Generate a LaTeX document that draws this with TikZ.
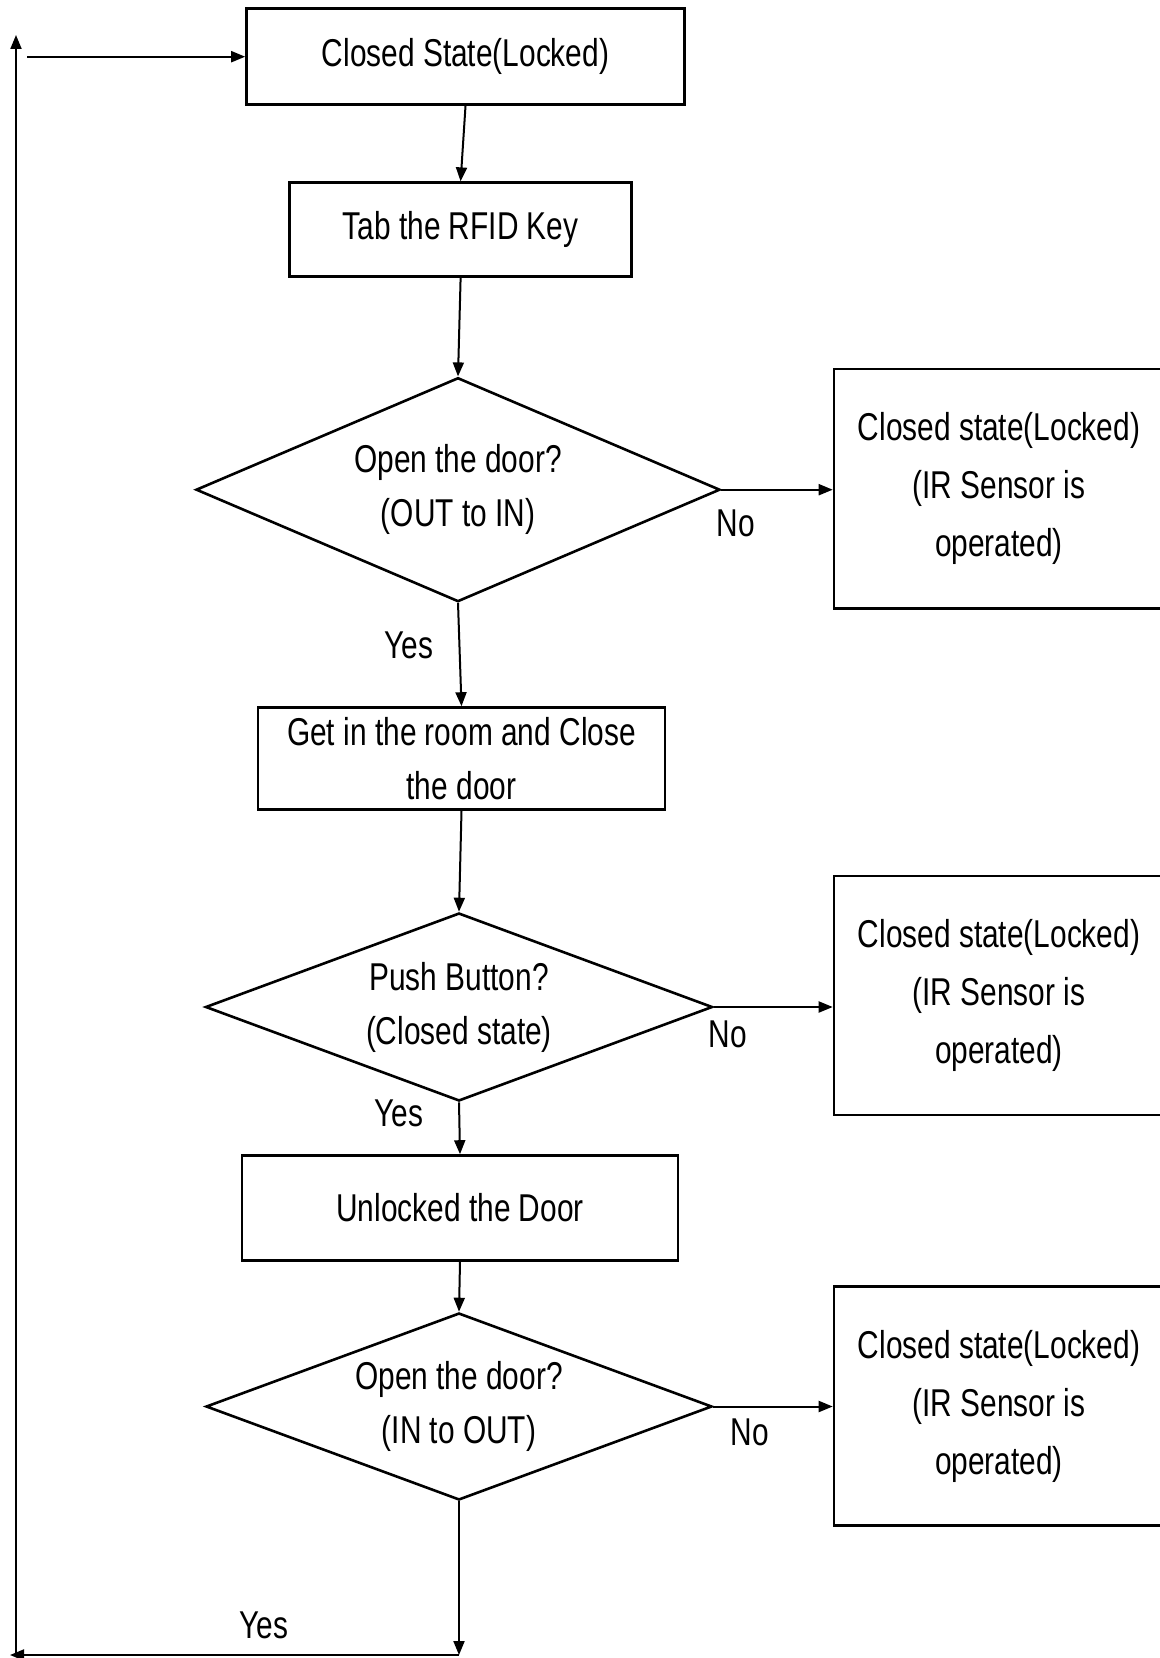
\documentclass[tikz,border=0pt]{standalone}
\usepackage{fontspec}
\setmainfont{Liberation Sans}[FakeStretch=0.77]

\usetikzlibrary{shapes.geometric,arrows.meta}

\begin{document}
\begin{tikzpicture}[x=0.5pt, y=-0.5pt,
        stepbox/.style={rectangle, draw=black, line width=1.3pt, align=center, inner sep=0pt, font=\fontsize{19.4}{27}\selectfont},
        decision/.style={diamond, draw=black, line width=1.3pt, aspect=2.7, inner sep=0pt, align=center, font=\fontsize{19.4}{27}\selectfont},
        lockbox/.style={rectangle, draw=black, line width=1.3pt, align=center, minimum width=165pt, minimum height=119.5pt, font=\fontsize{19.4}{29}\selectfont},
        answer/.style={inner sep=0pt, font=\fontsize{19.4}{22}\selectfont},
        flow/.style={-{Triangle[length=7pt,width=5.5pt]}, line width=1pt}
    ]
        \useasboundingbox (0,0) rectangle (1160,1658);

        % main column
        \node[stepbox, minimum width=219pt, minimum height=48pt] (closed) at (465.5,56.7) {Closed State(Locked)};
        \node[stepbox, minimum width=171pt, minimum height=47pt] (rfid) at (460.6,229.7) {Tab the RFID Key};
        \node[decision, minimum width=262pt, minimum height=112pt] (dec1) at (458,489.7) {Open the door?\\(OUT to IN)};
        \node[stepbox, minimum width=203.5pt, minimum height=51pt] (room) at (461.5,758.5) {Get in the room and Close\\the door};
        \node[decision, minimum width=253.5pt, minimum height=94pt] (dec2) at (459,1007) {Push Button?\\(Closed state)};
        \node[stepbox, minimum width=218pt, minimum height=52.5pt] (unlock) at (460,1208) {Unlocked the Door};
        \node[decision, minimum width=253pt, minimum height=93.5pt] (dec3) at (459,1406.5) {Open the door?\\(IN to OUT)};

        % locked states on the right
        \node[lockbox] (lock1) at (999,488.7) {Closed state(Locked)\\(IR Sensor is\\operated)};
        \node[lockbox] (lock2) at (999,995.5) {Closed state(Locked)\\(IR Sensor is\\operated)};
        \node[lockbox] (lock3) at (999,1406) {Closed state(Locked)\\(IR Sensor is\\operated)};

        \node[answer] (yes1) at (409,645) {Yes};
        \node[answer] (no1) at (736,523) {No};
        \node[answer] (yes2) at (399,1113) {Yes};
        \node[answer] (no2) at (728,1034) {No};
        \node[answer] (no3) at (750,1432) {No};
        \node[answer] (yes3) at (264,1625) {Yes};

        \draw[flow] (closed.south) -- (rfid.north);
        \draw[flow] (rfid.south) -- (dec1.north);
        \draw[flow] (dec1.south) -- (room.north);
        \draw[flow] (room.south) -- (dec2.north);
        \draw[flow] (dec2.south) -- (unlock.north);
        \draw[flow] (unlock.south) -- (dec3.north);

        \draw[flow] (dec1.east) -- (dec1.east -| lock1.west);
        \draw[flow] (dec2.east) -- (dec2.east -| lock2.west);
        \draw[flow] (dec3.east) -- (dec3.east -| lock3.west);

        % loop back to the top
        \coordinate (yesend) at (459,1655);
        \coordinate (cornerleft) at (10,1655);
        \coordinate (loopfoot) at (16,1653);
        \coordinate (looptop) at (16,35);
        \coordinate (loopstart) at (27,56.7);
        \draw[flow] (dec3.south) -- (yesend);
        \draw[flow] (yesend) -- (cornerleft);
        \draw[flow] (loopfoot) -- (looptop);
        \draw[flow] (loopstart) -- (closed.west);
    \end{tikzpicture}
\end{document}
